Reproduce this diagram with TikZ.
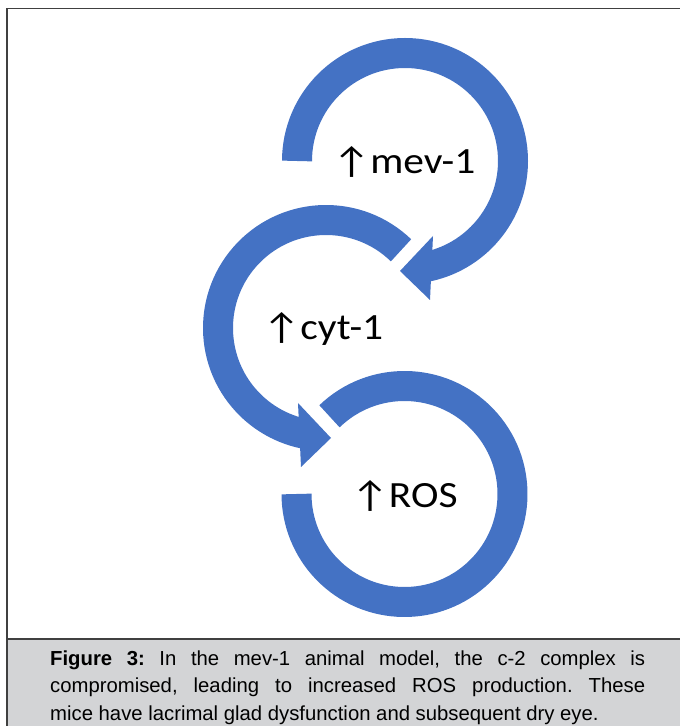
\documentclass[tikz,border=0pt]{standalone}
\usepackage{fontspec}
\setmainfont{Liberation Sans}
\newfontfamily\labelfont[FakeStretch=1.12]{Carlito}
\usetikzlibrary{calc}
\definecolor{ringblue}{HTML}{4472C4}
\definecolor{capgray}{HTML}{D3D4D6}
\begin{document}
\begin{tikzpicture}[x=1pt,y=1pt,
  ring/.style={draw=ringblue, line width=30pt, line cap=butt},
  head/.style={fill=ringblue, draw=none},
  lbl/.style={font=\labelfont\fontsize{37}{44}\selectfont, inner sep=0pt, anchor=base},
  frameline/.style={draw=black!75, line width=1.3pt},
  captext/.style={font=\fontsize{20.3}{27.5}\selectfont\frenchspacing, text width=595pt, align=justify, inner sep=0pt, anchor=north west}]
\useasboundingbox (0,0) rectangle (680,726);
\fill[capgray] (7,0) rectangle (681,87);
\draw[frameline] (7,0) -- (7,717.5) -- (681,717.5);
\draw[frameline] (7,87) -- (681,87);
\coordinate (c1) at (405,565);
\coordinate (c2) at (326,398);
\coordinate (c3) at (404.5,232);
% ring 1
\draw[ring] (c1) ++(180:108) arc[start angle=180, end angle=-80, radius=108];
\fill[head] ($(c1)+(28,-75)$) -- ($(c1)+(-5,-110)$) -- ($(c1)+(25,-139)$) -- cycle;
% ring 2
\draw[ring] (c2) ++(46:108) arc[start angle=46, end angle=260, radius=108];
\fill[head] ($(c2)+(-28,-75)$) -- ($(c2)+(5,-110)$) -- ($(c2)+(-25,-139)$) -- cycle;
% ring 3
\draw[ring] (c3) ++(134:108) arc[start angle=134, end angle=-180, radius=108];
% labels
\node[lbl] (mev) at (404,552) {↑mev-1};
\node[lbl] (cyt) at (323,386) {↑cyt-1};
\node[lbl] (ros) at (404.5,218) {↑ROS};
% caption
\node[captext] (cap) at (50,75.8) {\textbf{Figure 3:} In the mev-1 animal model, the c-2 complex is\linebreak compromised, leading to increased ROS production. These\linebreak mice have lacrimal glad dysfunction and subsequent dry eye.};
\end{tikzpicture}
\end{document}
